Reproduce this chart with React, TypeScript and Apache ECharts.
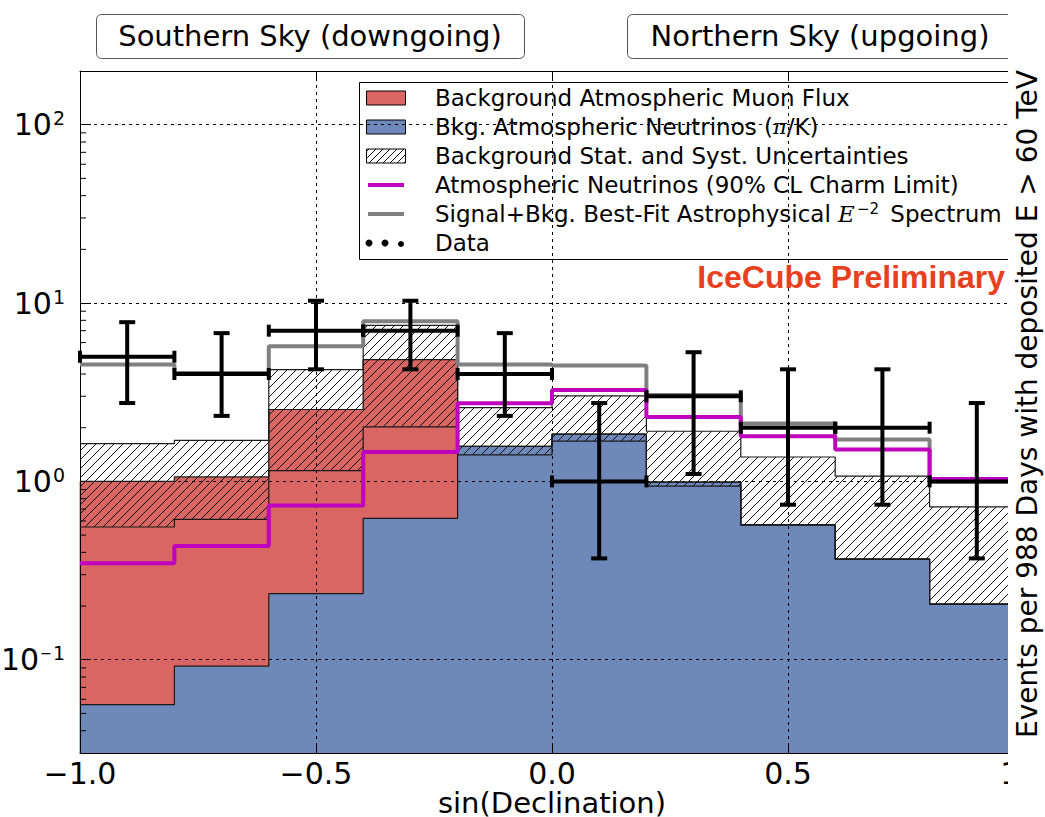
import React, { useEffect, useRef } from 'react';
import * as echarts from 'echarts';

// ---------------- data ----------------
const binEdges = [-1.0, -0.8, -0.6, -0.4, -0.2, 0.0, 0.2, 0.4, 0.6, 0.8, 1.0];
const binCenters = [-0.9, -0.7, -0.5, -0.3, -0.1, 0.1, 0.3, 0.5, 0.7, 0.9];
// Bkg. atmospheric neutrinos (pi/K)
const atmNu = [0.056, 0.092, 0.235, 0.62, 1.57, 1.84, 0.99, 0.57, 0.367, 0.205];
// stacked top: atmospheric neutrinos + atmospheric muons
const atmNuPlusMuon = [1.0, 1.06, 2.53, 4.82, 1.57, 1.84, 0.99, 0.57, 0.367, 0.205];
// background stat. + syst. uncertainty band
const bandLow = [0.555, 0.612, 1.15, 2.02, 1.41, 1.68, 0.94, 0.57, 0.367, 0.205];
const bandHigh = [1.63, 1.7, 4.23, 7.5, 2.59, 3.02, 1.91, 1.37, 1.07, 0.72];
// atmospheric neutrinos, 90% CL charm limit
const charmLimit = [0.348, 0.434, 0.733, 1.46, 2.74, 3.25, 2.3, 1.79, 1.51, 1.03];
// signal + bkg best-fit astrophysical E^-2
const bestFit = [4.52, 4.05, 5.73, 7.9, 4.52, 4.46, 3.05, 2.11, 1.72, 1.0];
// data
const dataCounts = [5, 4, 7, 7, 4, 1, 3, 2, 2, 1];
const dataErrLow = [2.75, 2.33, 4.25, 4.25, 2.33, 0.37, 1.1, 0.74, 0.74, 0.37];
const dataErrHigh = [7.81, 6.78, 10.3, 10.3, 6.78, 2.75, 5.3, 4.25, 4.25, 2.75];
// axis
const xMin = -1.0;
const xMax = 1.0;
const xInterval = 0.5;
const yMin = 0.03;
const yMax = 200;
const yMinorTicks = [
  0.04, 0.05, 0.06, 0.07, 0.08, 0.09,
  0.2, 0.3, 0.4, 0.5, 0.6, 0.7, 0.8, 0.9,
  2, 3, 4, 5, 6, 7, 8, 9,
  20, 30, 40, 50, 60, 70, 80, 90,
];

const RED = '#d96662';
const BLUE = '#6e89b9';
const MAGENTA = '#bf00bf';
const GRAY = '#808080';
const FONT = 'DejaVu Sans';

function hatchLines(x0: number, y0: number, x1: number, y1: number, d: number) {
  const out: any[] = [];
  const cStart = Math.ceil((x0 + y0) / d) * d;
  for (let c = cStart; c <= x1 + y1; c += d) {
    const xa = Math.max(x0, c - y1);
    const xb = Math.min(x1, c - y0);
    if (xb > xa) {
      out.push({
        type: 'line',
        shape: { x1: xa, y1: c - xa, x2: xb, y2: c - xb },
        style: { stroke: '#111', lineWidth: 1 },
      });
    }
  }
  return out;
}

function stepData(vals: number[]) {
  const pts: number[][] = vals.map((v, i) => [binEdges[i], v]);
  pts.push([binEdges[binEdges.length - 1], vals[vals.length - 1]]);
  return pts;
}

function fillSeries(bottoms: number[], tops: number[], color: string, z: number) {
  return {
    type: 'custom',
    z,
    silent: true,
    encode: { x: [0, 1], y: [2, 3] },
    data: tops.map((t, i) => [binEdges[i], binEdges[i + 1], bottoms[i], t]),
    renderItem: (_p: any, api: any) => {
      const p0 = api.coord([api.value(0), api.value(2)]);
      const p1 = api.coord([api.value(1), api.value(3)]);
      return {
        type: 'rect',
        shape: { x: p0[0] - 0.5, y: p1[1], width: p1[0] - p0[0] + 1, height: p0[1] - p1[1] },
        style: { fill: color },
      };
    },
  };
}

function stepLine(vals: number[], color: string, width: number, z: number) {
  return {
    type: 'line',
    step: 'end',
    z,
    silent: true,
    symbol: 'none',
    data: stepData(vals),
    lineStyle: { color, width },
  };
}

export default function App() {
  const ref = useRef<HTMLDivElement>(null);

  useEffect(() => {
    if (!ref.current) return;
    const chart = echarts.init(ref.current, null, { renderer: 'svg' });

    const floor = binEdges.slice(1).map(() => yMin);

    const legendX = 359;
    const rowY = [98, 127, 156, 185, 214, 243];
    const txt = (y: number, text: string, rich?: any) => ({
      type: 'text',
      x: 435,
      y,
      style: {
        text,
        fontFamily: FONT,
        fontSize: 23,
        fill: '#000',
        align: 'left',
        verticalAlign: 'middle',
        rich,
      },
    });

    const option: any = {
      animation: false,
      textStyle: { fontFamily: FONT },
      grid: { left: 80, right: 21, top: 71, bottom: 64, containLabel: false, outerBoundsMode: 'none' },
      xAxis: [
        {
          type: 'value',
          min: xMin,
          max: xMax,
          interval: xInterval,
          z: 3,
          axisLine: { show: true, onZero: false, lineStyle: { color: '#000', width: 1 } },
          axisTick: { show: true, inside: true, length: 10, lineStyle: { color: '#000' } },
          axisLabel: {
            color: '#000',
            fontSize: 30,
            fontFamily: FONT,
            margin: 5,
            lineHeight: 30,
            formatter: (v: number) => (v < 0 ? '\u2212' : '') + Math.abs(v).toFixed(1),
          },
          splitLine: { show: true, lineStyle: { color: '#000', type: [3, 4], width: 1 } },
          name: 'sin(Declination)',
          nameLocation: 'middle',
          nameGap: 36,
          nameMoveOverlap: false,
          nameTextStyle: { color: '#000', fontSize: 29, lineHeight: 28, fontFamily: FONT, verticalAlign: 'top' },
        },
        {
          type: 'value',
          position: 'top',
          min: xMin,
          max: xMax,
          interval: xInterval,
          z: 3,
          axisLine: { show: true, onZero: false, lineStyle: { color: '#000', width: 1 } },
          axisTick: { show: true, inside: true, length: 10, lineStyle: { color: '#000' } },
          axisLabel: { show: false },
          splitLine: { show: false },
        },
      ],
      yAxis: {
        type: 'log',
        logBase: 10,
        min: yMin,
        max: yMax,
        z: 3,
        axisLine: { show: true, onZero: false, lineStyle: { color: '#000', width: 1 } },
        axisTick: { show: true, inside: true, length: 11, lineStyle: { color: '#000' } },
        axisLabel: {
          showMinLabel: false,
          showMaxLabel: false,
          margin: 15,
          color: '#000',
          fontSize: 30,
          fontFamily: FONT,
          formatter: (v: number) => {
            const e = Math.log10(v);
            const r = Math.round(e);
            if (Math.abs(e - r) > 1e-6) return '';
            if (r < 0) return '10{supm|\u2212}{sup|' + -r + '}';
            return '10{sup|' + r + '}';
          },
          rich: {
            sup: { fontSize: 19, fontFamily: FONT, color: '#000', verticalAlign: 'top', padding: [0, 0, 13, 1] },
            supm: { fontSize: 14, fontFamily: FONT, color: '#000', verticalAlign: 'top', padding: [2, 0, 13, 1] },
          },
        },
        splitLine: { show: true, lineStyle: { color: '#000', type: [3, 4], width: 1 } },
      },
      series: [
        fillSeries(floor, atmNu, BLUE, 1),
        fillSeries(atmNu, atmNuPlusMuon, RED, 1),
        {
          type: 'custom',
          z: 2,
          silent: true,
          encode: { x: [0, 1], y: [2, 3] },
          data: bandHigh.map((h, i) => [binEdges[i], binEdges[i + 1], bandLow[i], h]),
          renderItem: (_p: any, api: any) => {
            const p0 = api.coord([api.value(0), api.value(2)]);
            const p1 = api.coord([api.value(1), api.value(3)]);
            return { type: 'group', children: hatchLines(p0[0], p1[1], p1[0], p0[1], 9) };
          },
        },
        stepLine(atmNu, '#1a1a1a', 1.2, 4),
        stepLine(atmNuPlusMuon, '#1a1a1a', 1.2, 4),
        stepLine(bandLow, '#1a1a1a', 1.2, 4),
        stepLine(bandHigh, '#1a1a1a', 1.2, 4),
        stepLine(bestFit, GRAY, 4, 5),
        stepLine(charmLimit, MAGENTA, 4, 5),
        {
          type: 'custom',
          z: 6,
          silent: true,
          encode: { x: [0, 4, 5], y: [1, 2, 3] },
          data: dataCounts.map((n, i) => [binCenters[i], n, dataErrLow[i], dataErrHigh[i], binEdges[i], binEdges[i + 1]]),
          renderItem: (_p: any, api: any) => {
            const c = api.coord([api.value(0), api.value(1)]);
            const lo = api.coord([api.value(0), api.value(2)]);
            const hi = api.coord([api.value(0), api.value(3)]);
            const l = api.coord([api.value(4), api.value(1)]);
            const r = api.coord([api.value(5), api.value(1)]);
            const st = { stroke: '#000', lineWidth: 4 };
            const ln = (x1: number, y1: number, x2: number, y2: number) => ({
              type: 'line',
              shape: { x1, y1, x2, y2 },
              style: st,
            });
            return {
              type: 'group',
              children: [
                ln(l[0], c[1], r[0], c[1]),
                ln(l[0], c[1] - 6, l[0], c[1] + 6),
                ln(r[0], c[1] - 6, r[0], c[1] + 6),
                ln(c[0], lo[1], c[0], hi[1]),
                ln(c[0] - 8, lo[1], c[0] + 8, lo[1]),
                ln(c[0] - 8, hi[1], c[0] + 8, hi[1]),
              ],
            };
          },
        },
        {
          type: 'custom',
          z: 6,
          silent: true,
          encode: { x: 0, y: 1 },
          data: yMinorTicks.map((v) => [xMin, v]),
          renderItem: (_p: any, api: any) => {
            const p = api.coord([api.value(0), api.value(1)]);
            return {
              type: 'line',
              shape: { x1: p[0], y1: p[1], x2: p[0] + 6, y2: p[1] },
              style: { stroke: '#000', lineWidth: 1 },
            };
          },
        },
      ],
      graphic: [
        // top region labels
        {
          type: 'rect',
          z: 20,
          shape: { x: 96.5, y: 14.5, width: 428, height: 44, r: 5 },
          style: { fill: '#fff', stroke: '#555', lineWidth: 1 },
        },
        {
          type: 'text',
          z: 21,
          x: 310,
          y: 36,
          style: { text: 'Southern Sky (downgoing)', fontFamily: FONT, fontSize: 29, fill: '#000', align: 'center', verticalAlign: 'middle' },
        },
        {
          type: 'rect',
          z: 20,
          shape: { x: 627.5, y: 14.5, width: 420, height: 44, r: 5 },
          style: { fill: '#fff', stroke: '#555', lineWidth: 1 },
        },
        {
          type: 'text',
          z: 21,
          x: 820,
          y: 36,
          style: { text: 'Northern Sky (upgoing)', fontFamily: FONT, fontSize: 29, fill: '#000', align: 'center', verticalAlign: 'middle' },
        },
        // legend
        {
          type: 'group',
          z: 20,
          children: [
            {
              type: 'rect',
              shape: { x: legendX + 0.5, y: 82.5, width: 720, height: 177 },
              style: { fill: '#fff', stroke: '#000', lineWidth: 1 },
            },
            {
              type: 'rect',
              shape: { x: 366.5, y: rowY[0] - 7, width: 39, height: 14 },
              style: { fill: RED, stroke: '#000', lineWidth: 1 },
            },
            {
              type: 'rect',
              shape: { x: 366.5, y: rowY[1] - 7, width: 39, height: 14 },
              style: { fill: BLUE, stroke: '#000', lineWidth: 1 },
            },
            ...hatchLines(366.5, rowY[2] - 7, 405.5, rowY[2] + 7, 7),
            {
              type: 'rect',
              shape: { x: 366.5, y: rowY[2] - 7, width: 39, height: 14 },
              style: { fill: 'none', stroke: '#000', lineWidth: 1 },
            },
            {
              type: 'line',
              shape: { x1: 368, y1: rowY[3], x2: 404, y2: rowY[3] },
              style: { stroke: MAGENTA, lineWidth: 4 },
            },
            {
              type: 'line',
              shape: { x1: 368, y1: rowY[4], x2: 404, y2: rowY[4] },
              style: { stroke: GRAY, lineWidth: 4 },
            },
            { type: 'circle', shape: { cx: 369, cy: rowY[5], r: 3.5 }, style: { fill: '#000' } },
            { type: 'circle', shape: { cx: 385, cy: rowY[5], r: 3.5 }, style: { fill: '#000' } },
            { type: 'circle', shape: { cx: 401, cy: rowY[5] + 1, r: 3 }, style: { fill: '#000' } },
            txt(rowY[0], 'Background Atmospheric Muon Flux'),
            txt(rowY[1], 'Bkg. Atmospheric Neutrinos ({it|\u03c0}/K)', {
              it: { fontFamily: 'DejaVu Serif', fontStyle: 'italic', fontSize: 21, fill: '#000' },
            }),
            txt(rowY[2], 'Background Stat. and Syst. Uncertainties'),
            txt(rowY[3], 'Atmospheric Neutrinos (90% CL Charm Limit)'),
            txt(rowY[4], 'Signal+Bkg. Best-Fit Astrophysical {it|E}{sup|\u22122} Spectrum', {
              it: { fontFamily: 'DejaVu Serif', fontStyle: 'italic', fontSize: 23, fill: '#000' },
              sup: { fontFamily: FONT, fontSize: 15, fill: '#000', verticalAlign: 'top', padding: [0, 4, 10, 2] },
            }),
            txt(rowY[5], 'Data'),
          ],
        },
        {
          type: 'text',
          z: 21,
          x: 1005,
          y: 277,
          style: {
            text: 'IceCube Preliminary',
            fontFamily: 'Liberation Sans',
            fontWeight: 'bold',
            fontSize: 32,
            fill: '#e8401f',
            align: 'right',
            verticalAlign: 'middle',
          },
        },
        // crop on the right edge, as in the reference
        {
          type: 'rect',
          z: 30,
          shape: { x: 1008, y: 0, width: 40, height: 817 },
          style: { fill: '#fff' },
        },
        {
          type: 'text',
          z: 31,
          x: 1027,
          y: 404,
          rotation: Math.PI / 2,
          style: {
            text: 'Events per 988 Days with deposited E > 60 TeV',
            fontFamily: FONT,
            fontSize: 28,
            fill: '#000',
            align: 'center',
            verticalAlign: 'middle',
          },
        },
      ],
    };

    chart.setOption(option);
    return () => chart.dispose();
  }, []);

  return (
    <div
      ref={ref}
      style={{ position: 'fixed', left: 0, top: 0, width: 1045, height: 817, background: '#fff' }}
    />
  );
}
